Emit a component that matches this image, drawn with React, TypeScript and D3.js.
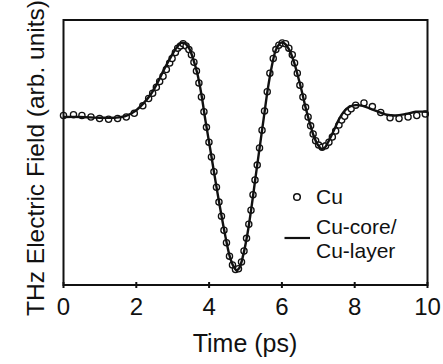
import {curveCatmullRom, line, scaleLinear} from "d3";

// measured Cu waveform (open circles): time in ps, field in arb. units
const CU_TIME = [
  0.0, 0.275, 0.506, 0.754, 0.991, 1.238, 1.486, 1.725, 1.945, 2.179,
  2.339, 2.449, 2.551, 2.642, 2.735, 2.826, 2.917, 2.983, 3.074, 3.137,
  3.211, 3.286, 3.368, 3.445, 3.514, 3.583, 3.652, 3.72, 3.789, 3.858,
  3.927, 3.996, 4.064, 4.133, 4.202, 4.271, 4.34, 4.408, 4.477, 4.56,
  4.642, 4.725, 4.807, 4.89, 4.959, 5.028, 5.091, 5.151, 5.206, 5.261,
  5.322, 5.385, 5.454, 5.523, 5.597, 5.669, 5.762, 5.834, 5.916, 6.01,
  6.101, 6.191, 6.285, 6.348, 6.423, 6.494, 6.577, 6.651, 6.72, 6.789,
  6.858, 6.926, 7.009, 7.105, 7.201, 7.292, 7.386, 7.477, 7.568, 7.642,
  7.724, 7.807, 7.903, 8.027, 8.255, 8.486, 8.715, 8.971, 9.218, 9.466,
  9.705, 9.939
];
const CU_FIELD = [
  0.02, 0.03, 0.02, 0.0, -0.02, -0.03, -0.02, 0.0, 0.05, 0.15,
  0.25, 0.32, 0.4, 0.48, 0.55, 0.64, 0.73, 0.79, 0.87, 0.93,
  0.96, 0.99, 0.96, 0.91, 0.84, 0.74, 0.62, 0.46, 0.27, 0.07,
  -0.14, -0.34, -0.54, -0.74, -0.95, -1.15, -1.34, -1.53, -1.7, -1.88,
  -2.0, -2.06, -2.05, -1.96, -1.81, -1.64, -1.45, -1.26, -1.05, -0.85,
  -0.65, -0.42, -0.18, 0.08, 0.34, 0.59, 0.79, 0.91, 0.97, 1.0,
  0.99, 0.93, 0.84, 0.73, 0.59, 0.43, 0.27, 0.13, 0.0, -0.12,
  -0.23, -0.32, -0.38, -0.41, -0.39, -0.34, -0.27, -0.19, -0.11, -0.04,
  0.01, 0.07, 0.11, 0.16, 0.19, 0.14, 0.06, -0.01, -0.02, 0.0,
  0.02, 0.04
];

// Cu-core/Cu-layer waveform (solid line)
const CORE_TIME = [
  0.0, 0.46, 1.01, 1.42, 1.7, 1.97, 2.19, 2.39, 2.58, 2.77,
  2.96, 3.1, 3.24, 3.35, 3.46, 3.57, 3.68, 3.79, 3.9, 4.04,
  4.17, 4.31, 4.45, 4.56, 4.67, 4.75, 4.83, 4.94, 5.06, 5.17,
  5.28, 5.39, 5.5, 5.61, 5.72, 5.83, 5.94, 6.02, 6.1, 6.21,
  6.32, 6.43, 6.54, 6.65, 6.76, 6.87, 6.98, 7.09, 7.17, 7.28,
  7.42, 7.56, 7.7, 7.86, 8.03, 8.22, 8.44, 8.66, 8.88, 9.13,
  9.4, 9.68, 10.0
];
const CORE_FIELD = [
  0.0, 0.0, -0.01, -0.01, 0.01, 0.08, 0.18, 0.3, 0.46, 0.65,
  0.82, 0.93, 1.0, 0.99, 0.92, 0.77, 0.58, 0.3, -0.05, -0.46,
  -0.85, -1.25, -1.62, -1.87, -2.02, -2.07, -2.04, -1.86, -1.56, -1.2,
  -0.8, -0.41, -0.02, 0.37, 0.68, 0.9, 0.99, 1.01, 0.98, 0.9,
  0.76, 0.57, 0.36, 0.13, -0.07, -0.25, -0.37, -0.43, -0.42, -0.33,
  -0.19, -0.04, 0.07, 0.14, 0.16, 0.15, 0.11, 0.07, 0.03, 0.02,
  0.04, 0.07, 0.07
];

const X_TICKS = [0, 2, 4, 6, 8, 10];
const X_TITLE = "Time (ps)";
const Y_TITLE = "THz Electric Field (arb. units)";
const LEGEND_CIRCLE = "Cu";
const LEGEND_LINE = ["Cu-core/", "Cu-layer"];

const FONT = "'Liberation Sans', Arial, sans-serif";

export default function App() {
  const width = 443;
  const height = 364;
  const left = 63.5;
  const right = 427.5;
  const top = 20;
  const bottom = 285;

  const x = scaleLinear().domain([0, 10]).range([left, right]);
  const y = scaleLinear().domain([-2.27, 1.31]).range([bottom, top]);

  const cuPoints = CU_TIME.map((t, i) => ({t, v: CU_FIELD[i]}));
  const corePoints = CORE_TIME.map((t, i) => ({t, v: CORE_FIELD[i]}));

  const coreLine = line<{t: number; v: number}>()
    .x((d) => x(d.t))
    .y((d) => y(d.v))
    .curve(curveCatmullRom.alpha(0.5));

  return (
    <svg
      width={width}
      height={height}
      viewBox={`0 0 ${width} ${height}`}
      style={{position: "absolute", left: 0, top: 0, background: "#fff"}}
      fontFamily={FONT}
    >
      <rect x={0} y={0} width={width} height={height} fill="#fff" />

      {cuPoints.map((d, i) => (
        <circle
          key={`cu-${i}`}
          cx={x(d.t)}
          cy={y(d.v)}
          r={3.1}
          fill="#fff"
          stroke="#111"
          strokeWidth={1.3}
        />
      ))}

      <path d={coreLine(corePoints) ?? ""} fill="none" stroke="#111" strokeWidth={2.4} />

      {/* frame */}
      <rect x={left} y={top} width={right - left} height={bottom - top} fill="none" stroke="#111" strokeWidth={2} />

      {X_TICKS.map((tick) => (
        <g key={`x-${tick}`} transform={`translate(${x(tick)},${bottom})`}>
          <line y1={-3} y2={3} stroke="#111" strokeWidth={2} />
          <text y={30} textAnchor="middle" fontSize={24} fill="#111">
            {tick}
          </text>
        </g>
      ))}

      <text x={245} y={352} textAnchor="middle" fontSize={25} fill="#111">
        {X_TITLE}
      </text>
      <text
        transform={`translate(43.5,158) rotate(-90)`}
        textAnchor="middle"
        fontSize={24.5}
        fill="#111"
      >
        {Y_TITLE}
      </text>

      {/* legend */}
      <circle cx={297} cy={197} r={3.3} fill="#fff" stroke="#111" strokeWidth={1.5} />
      <text x={316} y={204} fontSize={21} fill="#111">
        {LEGEND_CIRCLE}
      </text>
      <line x1={284.5} x2={310} y1={238} y2={238} stroke="#111" strokeWidth={2.2} />
      {LEGEND_LINE.map((label, i) => (
        <text key={label} x={316} y={234 + i * 24} fontSize={21} fill="#111">
          {label}
        </text>
      ))}
    </svg>
  );
}
